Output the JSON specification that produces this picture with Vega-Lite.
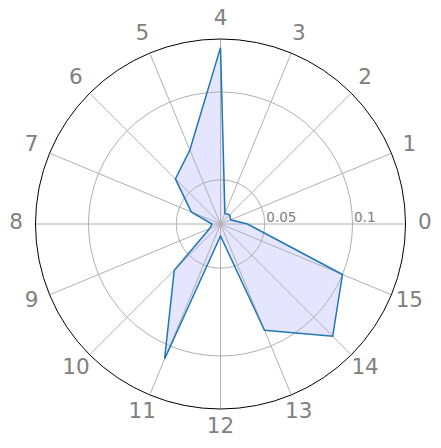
{
  "$schema": "https://vega.github.io/schema/vega-lite/v6.json",
  "width": 441,
  "height": 448,
  "padding": 0,
  "autosize": "none",
  "config": {"view": {"stroke": null}},
  "datasets": {
    "dirs": [{"dir":0},{"dir":1},{"dir":2},{"dir":3},{"dir":4},{"dir":5},{"dir":6},{"dir":7},{"dir":8},{"dir":9},{"dir":10},{"dir":11},{"dir":12},{"dir":13},{"dir":14},{"dir":15}],
    "rings": [{"v":0.05,"kind":"grid"},{"v":0.1,"kind":"grid"}],
    "frame": [{"v":0.13020,"kind":"frame"}],
    "series": [
      {"dir":0,"v":0.0401},{"dir":1,"v":0.0310},{"dir":2,"v":0.0322},{"dir":3,"v":0.0313},
      {"dir":4,"v":0.1253},{"dir":5,"v":0.0704},{"dir":6,"v":0.0611},{"dir":7,"v":0.0428},
      {"dir":8,"v":0.0296},{"dir":9,"v":0.0314},{"dir":10,"v":0.0620},{"dir":11,"v":0.1080},
      {"dir":12,"v":0.0316},{"dir":13,"v":0.0903},{"dir":14,"v":0.1152},{"dir":15,"v":0.1000}
    ]
  },
  "layer": [
    {
      "data": {"name": "series"},
      "transform": [
        {"calculate": "(datum.v - 0.02474) / 0.10546", "as": "rn"},
        {"calculate": "datum.rn * cos(datum.dir * PI / 8)", "as": "px"},
        {"calculate": "datum.rn * sin(datum.dir * PI / 8)", "as": "py"}
      ],
      "mark": {"type": "line", "interpolate": "linear-closed", "fill": "#e5e5ff", "strokeWidth": 0},
      "encoding": {
        "x": {"field": "px", "type": "quantitative", "scale": {"domain": [-1.1919, 1.1919], "nice": false, "zero": false}, "axis": null},
        "y": {"field": "py", "type": "quantitative", "scale": {"domain": [-1.2108, 1.2108], "nice": false, "zero": false}, "axis": null},
        "order": {"field": "dir", "type": "quantitative"}
      }
    },
    {
      "data": {"name": "rings"},
      "transform": [
        {"calculate": "(datum.v - 0.02474) / 0.10546", "as": "rn"},
        {"calculate": "0", "as": "c"}
      ],
      "mark": {"type": "point", "shape": "circle", "filled": false, "stroke": "#b0b0b0", "strokeWidth": 1, "opacity": 1},
      "encoding": {
        "x": {"field": "c", "type": "quantitative"},
        "y": {"field": "c", "type": "quantitative"},
        "size": {"field": "rn", "type": "quantitative", "legend": null, "scale": {"type": "pow", "exponent": 2, "domain": [0, 1], "range": [0, 136900], "zero": true, "nice": false}}
      }
    },
    {
      "data": {"name": "dirs"},
      "transform": [
        {"calculate": "0", "as": "c"},
        {"calculate": "cos(datum.dir * PI / 8)", "as": "ex"},
        {"calculate": "sin(datum.dir * PI / 8)", "as": "ey"}
      ],
      "mark": {"type": "rule", "stroke": "#b0b0b0", "strokeWidth": 1},
      "encoding": {
        "x": {"field": "c", "type": "quantitative"},
        "y": {"field": "c", "type": "quantitative"},
        "x2": {"field": "ex"},
        "y2": {"field": "ey"}
      }
    },
    {
      "data": {"name": "series"},
      "transform": [
        {"calculate": "(datum.v - 0.02474) / 0.10546", "as": "rn"},
        {"calculate": "datum.rn * cos(datum.dir * PI / 8)", "as": "px"},
        {"calculate": "datum.rn * sin(datum.dir * PI / 8)", "as": "py"}
      ],
      "mark": {"type": "line", "interpolate": "linear-closed", "stroke": "#1f77b4", "strokeWidth": 1.5},
      "encoding": {
        "x": {"field": "px", "type": "quantitative"},
        "y": {"field": "py", "type": "quantitative"},
        "order": {"field": "dir", "type": "quantitative"}
      }
    },
    {
      "data": {"name": "frame"},
      "transform": [
        {"calculate": "(datum.v - 0.02474) / 0.10546", "as": "rn"},
        {"calculate": "0", "as": "c"}
      ],
      "mark": {"type": "point", "shape": "circle", "filled": false, "stroke": "#000000", "strokeWidth": 1, "opacity": 1},
      "encoding": {
        "x": {"field": "c", "type": "quantitative"},
        "y": {"field": "c", "type": "quantitative"},
        "size": {"field": "rn", "type": "quantitative", "legend": null}
      }
    },
    {
      "data": {"name": "dirs"},
      "transform": [
        {"calculate": "1.105 * cos(datum.dir * PI / 8)", "as": "lx"},
        {"calculate": "1.105 * sin(datum.dir * PI / 8)", "as": "ly"}
      ],
      "mark": {"type": "text", "font": "DejaVu Sans", "fontSize": 21.5, "fill": "#808080", "align": "center", "baseline": "middle", "dy": -1},
      "encoding": {
        "x": {"field": "lx", "type": "quantitative"},
        "y": {"field": "ly", "type": "quantitative"},
        "text": {"field": "dir", "type": "nominal"}
      }
    },
    {
      "data": {"name": "rings"},
      "transform": [
        {"calculate": "(datum.v - 0.02474) / 0.10546", "as": "rn"},
        {"calculate": "0", "as": "c"}
      ],
      "mark": {"type": "text", "font": "DejaVu Sans", "fontSize": 13.5, "fill": "#808080", "align": "left", "baseline": "alphabetic", "dx": 1.5, "dy": -2.5},
      "encoding": {
        "x": {"field": "rn", "type": "quantitative"},
        "y": {"field": "c", "type": "quantitative"},
        "text": {"field": "v", "type": "quantitative", "format": "~g"}
      }
    }
  ]
}
